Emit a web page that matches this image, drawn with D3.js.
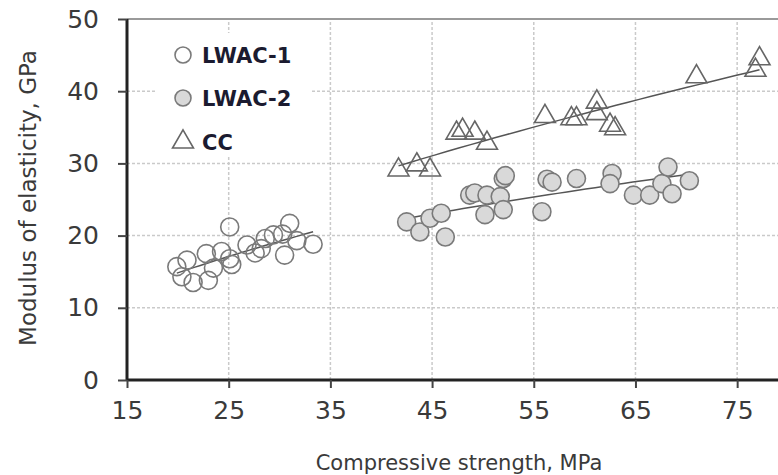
<!DOCTYPE html>
<html>
<head>
<meta charset="utf-8">
<script src="https://cdn.jsdelivr.net/npm/d3@7"></script>
<style>
  body { margin: 0; background: #fff; }
  svg { display: block; }
</style>
</head>
<body>
<svg id="chart"></svg>
<script>
// data: [compressive strength MPa, modulus GPa]
const lwac1 = [
  [19.9, 15.7], [20.4, 14.3], [20.9, 16.6], [21.5, 13.5], [22.8, 17.5], [23.0, 13.8],
  [23.5, 15.5], [24.3, 17.8], [25.1, 21.2], [25.1, 16.8], [25.3, 16.0], [26.8, 18.7],
  [27.6, 17.6], [28.2, 18.2], [28.6, 19.6], [29.4, 20.1], [30.3, 20.2], [30.5, 17.3],
  [31.0, 21.7], [31.7, 19.3], [33.3, 18.8]
];
const lwac2 = [
  [42.5, 21.9], [43.8, 20.5], [44.8, 22.4], [45.9, 23.1], [46.3, 19.8], [48.7, 25.6],
  [49.2, 25.9], [50.4, 25.6], [50.2, 22.9], [51.7, 25.4], [52.0, 27.9], [52.2, 28.3],
  [52.0, 23.6], [55.8, 23.3], [56.3, 27.8], [56.8, 27.4], [59.2, 27.9], [62.7, 28.6],
  [62.5, 27.2], [64.8, 25.6], [66.4, 25.6], [67.6, 27.2], [68.2, 29.5], [68.6, 25.8],
  [70.3, 27.6]
];
const cc = [
  [41.7, 29.1], [43.5, 29.8], [44.8, 29.1], [47.4, 34.2], [48.0, 34.6], [49.2, 34.2],
  [50.4, 32.8], [56.1, 36.5], [58.7, 36.2], [59.2, 36.2], [61.2, 38.5], [61.2, 36.9],
  [62.5, 35.3], [63.0, 34.8], [71.0, 42.0], [76.8, 42.9], [77.2, 44.5]
];
const xTicks = [15, 25, 35, 45, 55, 65, 75];
const yTicks = [0, 10, 20, 30, 40, 50];
const legendNames = ["LWAC-1", "LWAC-2", "CC"];

const width = 778, height = 475;
const svg = d3.select("#chart").attr("width", width).attr("height", height);

const x = d3.scaleLinear().domain([15, 80]).range([127, 788]);
const y = d3.scaleLinear().domain([0, 50]).range([380, 19]);

// grid
const grid = svg.append("g").attr("stroke", "#cacaca").attr("stroke-width", 1.5).attr("stroke-dasharray", "3,2");
grid.selectAll(".gx").data(xTicks.slice(1)).join("line")
  .attr("x1", d => x(d)).attr("x2", d => x(d)).attr("y1", y(0)).attr("y2", y(50));
grid.selectAll(".gy").data(yTicks.slice(1, -1)).join("line")
  .attr("x1", x(15)).attr("x2", x(80)).attr("y1", d => y(d)).attr("y2", d => y(d));

// top border
svg.append("line").attr("x1", x(15)).attr("x2", x(80)).attr("y1", y(50)).attr("y2", y(50))
  .attr("stroke", "#9a9a9a").attr("stroke-width", 2);

// legend background hides the grid
svg.append("rect").attr("x", 157).attr("y", 33).attr("width", 155).attr("height", 122).attr("fill", "#fff");

// power trend lines
function powerFit(pts) {
  const lx = pts.map(p => Math.log(p[0])), ly = pts.map(p => Math.log(p[1]));
  const mx = d3.mean(lx), my = d3.mean(ly);
  const b = d3.sum(lx, (v, i) => (v - mx) * (ly[i] - my)) / d3.sum(lx, v => (v - mx) * (v - mx));
  const a = Math.exp(my - b * mx);
  const [x0, x1] = d3.extent(pts, p => p[0]);
  return d3.range(0, 31).map(i => {
    const xv = x0 + (x1 - x0) * i / 30;
    return [xv, a * Math.pow(xv, b)];
  });
}
const line = d3.line().x(d => x(d[0])).y(d => y(d[1]));
[lwac1, lwac2, cc].forEach(s => {
  svg.append("path").attr("d", line(powerFit(s))).attr("fill", "none")
    .attr("stroke", "#555").attr("stroke-width", 1.5);
});

// markers
const tri = d3.symbol().type(d3.symbolTriangle).size(190);
svg.append("g").selectAll("circle").data(lwac1).join("circle")
  .attr("cx", d => x(d[0])).attr("cy", d => y(d[1])).attr("r", 9)
  .attr("fill", "none").attr("stroke", "#7a7a7a").attr("stroke-width", 1.6);
svg.append("g").selectAll("circle").data(lwac2).join("circle")
  .attr("cx", d => x(d[0])).attr("cy", d => y(d[1])).attr("r", 9)
  .attr("fill", "#d9d9d9").attr("stroke", "#7a7a7a").attr("stroke-width", 1.6);
svg.append("g").selectAll("path").data(cc).join("path")
  .attr("d", tri).attr("transform", d => `translate(${x(d[0])},${y(d[1])})`)
  .attr("fill", "none").attr("stroke", "#666").attr("stroke-width", 1.6);

// axes
const yAxis = svg.append("g").attr("transform", `translate(${x(15)},0)`)
  .call(d3.axisLeft(y).tickValues(yTicks).tickSize(9).tickPadding(19));
const xAxis = svg.append("g").attr("transform", `translate(0,${y(0)})`)
  .call(d3.axisBottom(x).tickValues(xTicks).tickSize(8).tickPadding(13));
[yAxis, xAxis].forEach(g => {
  g.select(".domain").attr("stroke", "#222").attr("stroke-width", 3);
  g.selectAll(".tick line").attr("stroke", "#444").attr("stroke-width", 2);
  g.selectAll(".tick text").attr("fill", "#3a3a3a")
    .style("font-family", "DejaVu Sans, sans-serif").style("font-size", "25px");
});
xAxis.select(".domain").attr("d", `M${x(15)},0H${x(80)}`);
yAxis.select(".domain").attr("d", `M0,${y(0)}V${y(50)}`);

// axis titles
svg.append("text").attr("x", 459).attr("y", 470).attr("text-anchor", "middle")
  .attr("fill", "#3a3a3a").style("font-family", "DejaVu Sans, sans-serif").style("font-size", "21px")
  .text("Compressive strength, MPa");
svg.append("text").attr("transform", "translate(36,198) rotate(-90)").attr("text-anchor", "middle")
  .attr("fill", "#3a3a3a").style("font-family", "DejaVu Sans, sans-serif").style("font-size", "23px")
  .text("Modulus of elasticity, GPa");

// legend
const lg = svg.append("g");
const rows = [55, 98, 142];
lg.append("circle").attr("cx", 183).attr("cy", rows[0]).attr("r", 8)
  .attr("fill", "none").attr("stroke", "#7a7a7a").attr("stroke-width", 1.6);
lg.append("circle").attr("cx", 183).attr("cy", rows[1]).attr("r", 8)
  .attr("fill", "#d9d9d9").attr("stroke", "#7a7a7a").attr("stroke-width", 1.6);
lg.append("path").attr("d", tri).attr("transform", `translate(183,${rows[2]})`)
  .attr("fill", "none").attr("stroke", "#666").attr("stroke-width", 1.6);
lg.selectAll("text").data(legendNames).join("text")
  .attr("x", 202).attr("y", (d, i) => rows[i]).attr("dy", "0.36em")
  .attr("fill", "#1b1b30").style("font-family", "DejaVu Sans, sans-serif")
  .style("font-weight", "bold").style("font-size", "21px").text(d => d);
</script>
</body>
</html>
